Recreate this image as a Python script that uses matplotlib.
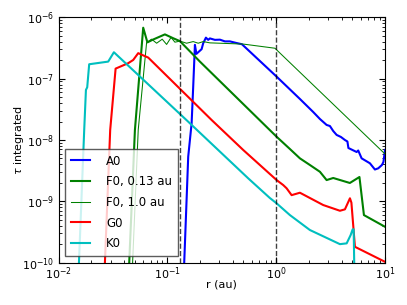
import matplotlib
matplotlib.use('Agg')
import matplotlib.pyplot as plt

# Data (r in au, tau integrated)
a0_r = [0.1356, 0.1427, 0.1553, 0.1669, 0.1726, 0.1790, 0.1847, 0.2062, 0.2133,
        0.2259, 0.2371, 0.2458, 0.2733, 0.3038, 0.3377, 0.3753, 0.4262, 0.4840,
        1.0085, 1.651, 2.188, 2.522, 2.905, 3.116, 3.342, 3.591, 3.933, 4.280,
        4.511, 4.608, 5.483, 5.671, 6.095, 7.263, 8.075, 8.66, 9.365, 9.67, 10.0]
a0_tau = [1e-11, 1e-10, 5.34e-9, 1.87e-8, 7.42e-8, 3.56e-7, 2.54e-7, 3.03e-7, 3.79e-7,
          4.67e-7, 4.30e-7, 4.54e-7, 4.30e-7, 4.33e-7, 4.06e-7, 4.06e-7, 3.84e-7, 3.65e-7,
          1.08e-7, 4.67e-8, 2.86e-8, 2.20e-8, 1.76e-8, 1.69e-8, 1.40e-8, 1.21e-8, 1.12e-8, 1.0e-8,
          9.45e-9, 7.40e-9, 6.37e-9, 6.74e-9, 5.02e-9, 4.17e-9, 3.30e-9, 3.45e-9, 3.91e-9, 4.38e-9, 6.87e-9]

f0a_r = [0.04233, 0.04456, 0.05027, 0.05991, 0.06547, 0.07278, 0.09484, 0.1130, 0.1303,
         0.1989, 1.0085, 1.336, 1.651, 2.04, 2.522, 2.905, 3.342, 4.75, 5.82, 6.40, 10.0]
f0a_tau = [1e-11, 1e-10, 1.455e-8, 6.79e-7, 3.91e-7, 4.30e-7, 5.28e-7, 4.57e-7, 4.10e-7,
           1.90e-7, 1.13e-8, 7.13e-9, 5.02e-9, 3.91e-9, 3.03e-9, 2.22e-9, 2.40e-9, 1.99e-9,
           2.49e-9, 5.96e-10, 3.84e-10]

f0b_r = [0.04530, 0.04787, 0.05391, 0.06437, 0.07159, 0.07960, 0.08959, 0.09831, 0.1081,
         0.1172, 0.1303, 0.1501, 0.1726, 0.1919, 0.2133, 0.2458, 0.4975, 0.9729, 10.0]
f0b_tau = [1e-11, 1e-10, 1.455e-8, 3.88e-7, 4.41e-7, 3.79e-7, 4.41e-7, 3.62e-7, 4.72e-7,
           3.94e-7, 4.10e-7, 3.79e-7, 4.03e-7, 3.79e-7, 4.03e-7, 3.84e-7, 3.67e-7, 3.14e-7, 5.91e-9]

g0_r = [0.02532, 0.02664, 0.02979, 0.03341, 0.04361, 0.04849, 0.05391, 0.05866, 0.06660,
        0.2548, 0.4975, 1.0085, 1.160, 1.246, 1.385, 1.651, 2.704, 3.85, 4.28, 4.76,
        4.91, 5.29, 10.0]
g0_tau = [1e-11, 1e-10, 1.455e-8, 1.46e-7, 1.79e-7, 2.02e-7, 2.61e-7, 2.44e-7, 2.21e-7,
          2.12e-8, 6.87e-9, 2.22e-9, 1.84e-9, 1.63e-9, 1.26e-9, 1.38e-9, 8.69e-10, 7.01e-10,
          7.39e-10, 1.12e-9, 9.5e-10, 1.81e-10, 1.03e-10]

k0_r = [0.0147, 0.01538, 0.01719, 0.01783, 0.01832, 0.01910, 0.02857, 0.03222, 0.1552,
        0.5527, 0.875, 1.0085, 1.336, 2.04, 3.85, 4.44, 4.83, 5.04, 5.15, 5.21, 5.30]
k0_tau = [1e-11, 1e-10, 1.455e-8, 6.55e-8, 7.24e-8, 1.72e-7, 1.90e-7, 2.70e-7, 1.99e-8,
          2.37e-9, 1.13e-9, 9.26e-10, 5.96e-10, 3.40e-10, 2.00e-10, 2.06e-10, 2.81e-10,
          3.48e-10, 3.5e-10, 1e-10, 1e-11]

vlines = [0.13, 1.0]
x_ticks = [1e-2, 1e-1, 1e0, 1e1]
y_ticks = [1e-10, 1e-9, 1e-8, 1e-7, 1e-6]

plt.rcParams['font.family'] = 'DejaVu Sans'
plt.rcParams['font.size'] = 8
plt.rcParams['mathtext.fontset'] = 'dejavusans'
plt.rcParams['xtick.direction'] = 'in'
plt.rcParams['ytick.direction'] = 'in'
plt.rcParams['xtick.top'] = True
plt.rcParams['ytick.right'] = True
plt.rcParams['xtick.major.size'] = 4
plt.rcParams['ytick.major.size'] = 4
plt.rcParams['xtick.minor.size'] = 2
plt.rcParams['ytick.minor.size'] = 2
plt.rcParams['xtick.major.pad'] = 2
plt.rcParams['ytick.major.pad'] = 3

fig = plt.figure(figsize=(4.07, 3.05), dpi=100)
ax = fig.add_axes([0.144, 0.139, 0.802, 0.804])

ax.plot(a0_r, a0_tau, color='b', lw=1.5, label='A0')
ax.plot(f0a_r, f0a_tau, color='g', lw=1.5, label='F0, 0.13 au')
ax.plot(f0b_r, f0b_tau, color='g', lw=0.75, label='F0, 1.0 au')
ax.plot(g0_r, g0_tau, color='r', lw=1.5, label='G0')
ax.plot(k0_r, k0_tau, color='c', lw=1.5, label='K0')

for v in vlines:
    ax.axvline(v, color='k', ls='--', lw=1, alpha=0.75)

ax.set_xscale('log')
ax.set_yscale('log')
ax.set_xticks(x_ticks)
ax.set_yticks(y_ticks)
ax.set_xlim(1e-2, 10)
ax.set_ylim(1e-10, 1e-6)
ax.set_xlabel('r (au)')
ax.set_ylabel(r'$\tau$ integrated')
ax.xaxis.set_label_coords(0.5, -0.068)
ax.yaxis.set_label_coords(-0.1, 0.5)

leg = ax.legend(loc='lower left', bbox_to_anchor=(0.0, 0.0), fancybox=False,
                fontsize=8.5, handlelength=1.64, handletextpad=1.34, labelspacing=0.65,
                borderpad=0.5, borderaxespad=0.55)
leg.get_frame().set_edgecolor('0.2')
leg.get_frame().set_linewidth(1.0)

fig.savefig('out.png', dpi=100, facecolor='white')
